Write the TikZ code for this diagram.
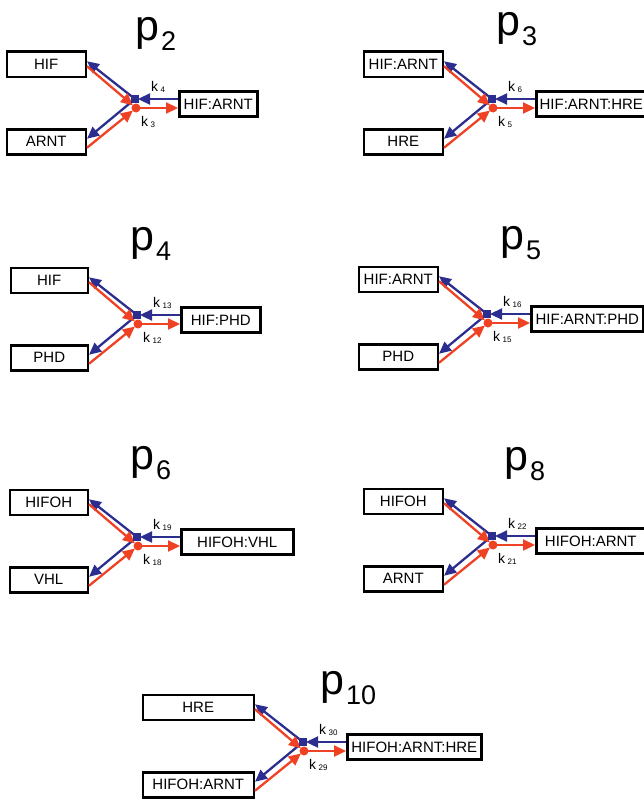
\documentclass[tikz,border=0pt]{standalone}
\usepackage{fontspec}
\setmainfont{Liberation Sans}
\usetikzlibrary{arrows.meta,positioning}
\definecolor{revblue}{RGB}{43,46,143}
\definecolor{fwdred}{RGB}{239,65,35}

\begin{document}
\begin{tikzpicture}[
	x=1pt, y=-1pt,
	>={Triangle[length=12pt,width=11pt]},
	box/.style={rectangle, draw=black, line width=2.5pt, minimum height=25pt, inner sep=0pt, font=\fontsize{15}{15}\selectfont},
	fwd/.style={->, fwdred, line width=2.3pt},
	rev/.style={->, revblue, line width=2.3pt},
	klab/.style={inner sep=0pt, anchor=west, font=\fontsize{14}{14}\selectfont},
	ttl/.style={inner sep=0pt, anchor=base west, font=\fontsize{43}{43}\selectfont},
]
\useasboundingbox (0,0) rectangle (644,800);
% one panel per reaction: junction, title, left/right boxes, rates
\foreach \jx/\jy/\tx/\ty/\p/\ta/\tb/\tc/\wl/\wr/\kf/\kb in {
	135/99/135/41/2/HIF/ARNT/HIF:ARNT/79/78/3/4,
	492/99/496/36/3/HIF:ARNT/HRE/HIF:ARNT:HRE/79/110/5/6,
	137/315/130/250/4/HIF/PHD/HIF:PHD/77/79/12/13,
	487/314/500/249/5/HIF:ARNT/PHD/HIF:ARNT:PHD/79/112/15/16,
	137/537/130/469/6/HIFOH/VHL/HIFOH:VHL/78/112/18/19,
	492/536/504/470/8/HIFOH/ARNT/HIFOH:ARNT/79/109/21/22,
	303/742/320/694/10/HRE/HIFOH:ARNT/HIFOH:ARNT:HRE/111/134/29/30}{
	\coordinate (J) at (\jx,\jy);
	\coordinate (R) at (\jx+1,\jy+9);
	\node[ttl] (t) at (\tx,\ty) {p\hspace{2pt}\raisebox{-10pt}{\fontsize{27}{27}\selectfont\p}};
	\node[box, minimum width=\wl pt, above left=21pt and 48pt of J] (a) {\ta};
	\node[box, minimum width=\wl pt, below left=29pt and 48pt of J] (b) {\tb};
	\node[box, minimum width=\wr pt, right=43pt of J, yshift=-5pt] (c) {\tc};
	\draw[rev] (J) -- ([yshift=3pt]a.east);
	\draw[rev] (J) -- ([yshift=3pt]b.east);
	\draw[rev, shorten >=3pt] ([yshift=5pt]c.west) -- (J);
	\draw[fwd, shorten >=4pt] ([yshift=-2pt]a.east) -- (R);
	\draw[fwd, shorten >=4pt] ([yshift=-6pt]b.east) -- (R);
	\draw[fwd] (R) -- ([yshift=-4pt]c.west);
	\node[fill=revblue, minimum size=8pt, inner sep=0pt] (sq) at (J) {};
	\node[circle, fill=fwdred, minimum size=9pt, inner sep=0pt] (dot) at (R) {};
	\node[klab] (kr) at (\jx+16,\jy-12) {k\hspace{2.5pt}\raisebox{-1.5pt}{\fontsize{8}{8}\selectfont\kb}};
	\node[klab] (kl) at (\jx+6,\jy+23) {k\hspace{2.5pt}\raisebox{-1.5pt}{\fontsize{8}{8}\selectfont\kf}};
}
\end{tikzpicture}
\end{document}
